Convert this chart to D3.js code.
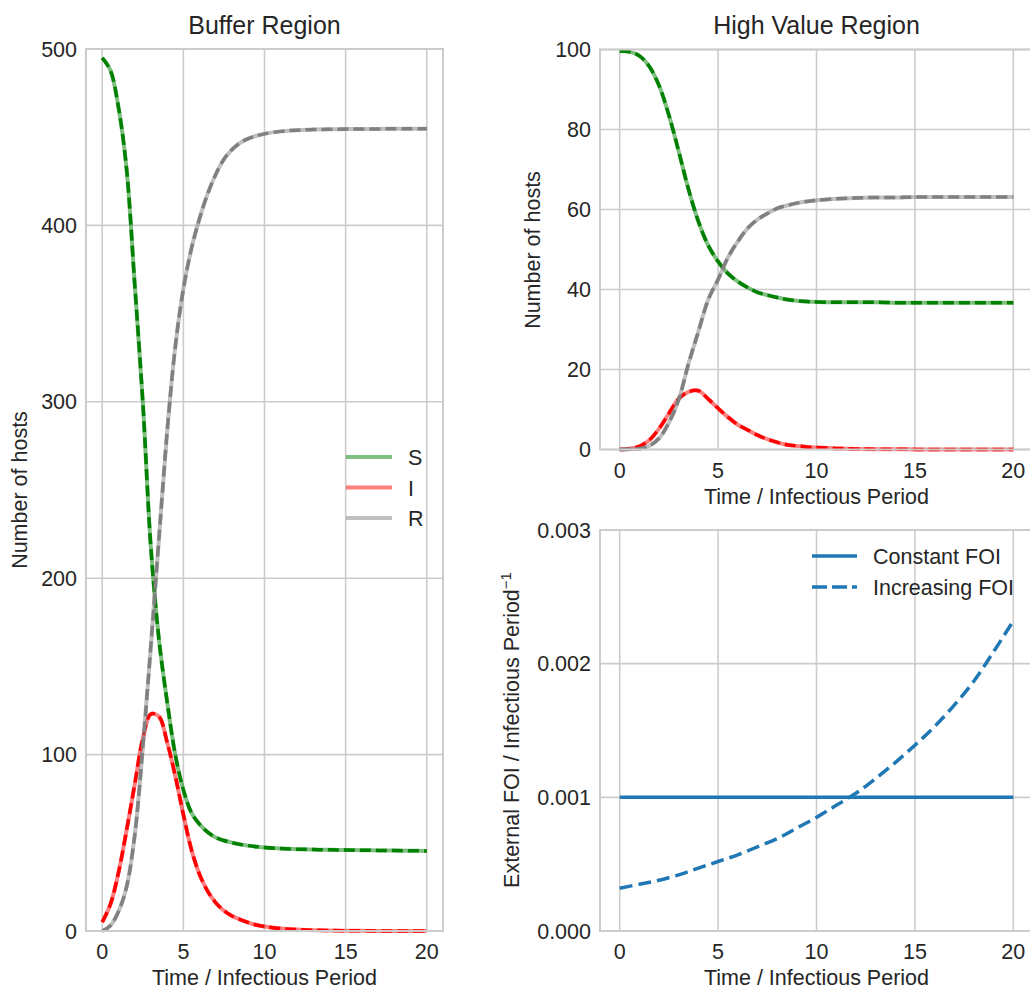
<!DOCTYPE html>
<meta charset="utf-8">
<style>
body { margin: 0; background: #fff; }
svg text {
  font-family: "Liberation Sans", Arial, sans-serif;
  fill: #262626;
}
.grid line { stroke: #cccccc; stroke-width: 1.6; }
.frame { fill: none; stroke: #cccccc; stroke-width: 2; }
</style>
<svg id="chart" width="1030" height="990"></svg>
<script src="https://d3js.org/d3.v7.min.js"></script>
<script>

var times = [0, 0.5, 1, 1.5, 2, 2.5, 3, 3.5, 4, 4.5, 5, 5.5, 6, 6.5, 7, 7.5, 8, 8.5, 9, 9.5, 10,
             11, 12, 13, 14, 15, 16, 17, 18, 19, 20];

// buffer region
var bufferS = [495, 488, 467, 432, 367, 300, 217, 165, 130, 100, 80, 67, 60.5, 56, 53, 51.3, 50.1, 49.1, 48.4, 47.8, 47.3,
               46.7, 46.4, 46.2, 46, 45.9, 45.8, 45.7, 45.6, 45.5, 45.4];
var bufferI = [5, 15, 33, 57, 83, 109, 123, 121.5, 107, 88, 66, 46, 32, 22.5, 16, 11.5, 8.5, 6.5, 4.8, 3.4, 2.5,
               1.4, 0.8, 0.45, 0.25, 0.15, 0.08, 0.05, 0.03, 0.02, 0.01];
var bufferR = [0, 3, 11, 25, 54, 104, 162, 223, 283, 331, 364, 387, 404, 418, 429, 437.5, 443, 446.8, 449.2, 450.8, 451.9,
               453.3, 454, 454.3, 454.5, 454.6, 454.7, 454.7, 454.8, 454.8, 454.8];

// high value region
var highS = [99.6, 99.4, 98.4, 95.8, 91, 83.6, 74.5, 65, 57, 51, 47, 44, 42, 40.5, 39.3, 38.6, 38, 37.5, 37.2, 37, 36.9,
             36.8, 36.8, 36.8, 36.7, 36.7, 36.7, 36.7, 36.7, 36.7, 36.7];
var highI = [0, 0.2, 0.8, 2.3, 5.2, 9, 12.7, 14.4, 14.7, 12.6, 10.3, 8.1, 6.2, 4.9, 3.6, 2.6, 1.8, 1.2, 0.9, 0.65, 0.5,
             0.28, 0.15, 0.08, 0.05, 0.03, 0.02, 0.01, 0.01, 0.01, 0];
var highR = [0, 0.05, 0.2, 0.9, 2.8, 6.7, 12.5, 21.5, 29.5, 37.5, 42.5, 48, 52, 55.3, 57.5, 59, 60.3, 61, 61.6, 62, 62.3,
             62.7, 62.9, 63, 63, 63.1, 63.1, 63.1, 63.1, 63.1, 63.1];

// external force of infection
var foiTimes = [0, 1, 2, 3, 4, 5, 6, 7, 8, 9, 10, 11, 12, 13, 14, 15, 16, 17, 18, 19, 20];
var constantFoi = [0.001, 0.001, 0.001, 0.001, 0.001, 0.001, 0.001, 0.001, 0.001, 0.001, 0.001,
                   0.001, 0.001, 0.001, 0.001, 0.001, 0.001, 0.001, 0.001, 0.001, 0.001];
var increasingFoi = [0.00032, 0.00035, 0.00038, 0.00042, 0.00047, 0.00052, 0.00057, 0.00063, 0.00069, 0.00077, 0.00085,
                     0.00094, 0.00103, 0.00114, 0.00126, 0.00139, 0.00153, 0.00169, 0.00187, 0.00209, 0.00232];

var xTicks = [0, 5, 10, 15, 20];
var bufferTicks = [0, 100, 200, 300, 400, 500];
var highTicks = [0, 20, 40, 60, 80, 100];
var foiTicks = [0, 0.001, 0.002, 0.003];

var sirNames = ["S", "I", "R"];
var sirColors = ["green", "red", "gray"];

var svg = d3.select("#chart");

function panel(box, yDomain, yTicks, yFormat) {
  var x = d3.scaleLinear().domain([-1, 21]).range([box.left, box.right]);
  var y = d3.scaleLinear().domain(yDomain).range([box.bottom, box.top]);

  var g = svg.append("g");
  var grid = g.append("g").attr("class", "grid");
  grid.selectAll(".gx").data(xTicks).enter().append("line")
      .attr("x1", x).attr("x2", x)
      .attr("y1", box.top).attr("y2", box.bottom);
  grid.selectAll(".gy").data(yTicks).enter().append("line")
      .attr("x1", box.left).attr("x2", box.right)
      .attr("y1", y).attr("y2", y);

  g.selectAll(".xt").data(xTicks).enter().append("text")
      .attr("x", x).attr("y", box.bottom + 28)
      .attr("text-anchor", "middle")
      .style("font-size", "21.5px")
      .text(function(d) { return d; });
  g.selectAll(".yt").data(yTicks).enter().append("text")
      .attr("x", box.left - 9).attr("y", function(d) { return y(d) + 7.5; })
      .attr("text-anchor", "end")
      .style("font-size", "21.5px")
      .text(yFormat);

  g.append("text")
      .attr("x", (box.left + box.right) / 2).attr("y", box.bottom + 54)
      .attr("text-anchor", "middle")
      .style("font-size", "21.5px")
      .text("Time / Infectious Period");

  var plot = g.append("g");
  g.append("rect").attr("class", "frame")
      .attr("x", box.left).attr("y", box.top)
      .attr("width", box.right - box.left).attr("height", box.bottom - box.top);

  return { x: x, y: y, g: g, plot: plot };
}

function sirLines(p, series) {
  series.forEach(function(values, i) {
    var line = d3.line()
        .x(function(d, j) { return p.x(times[j]); })
        .y(function(d) { return p.y(d); })
        .curve(d3.curveCatmullRom.alpha(0.5));
    p.plot.append("path")
        .attr("d", line(values))
        .attr("fill", "none")
        .attr("stroke", sirColors[i])
        .attr("stroke-opacity", 0.5)
        .attr("stroke-width", 4);
    p.plot.append("path")
        .attr("d", line(values))
        .attr("fill", "none")
        .attr("stroke", sirColors[i])
        .attr("stroke-width", 3.5)
        .attr("stroke-dasharray", "11,5");
  });
}

function yLabel(x, y, txt) {
  return svg.append("text")
      .attr("transform", "translate(" + x + "," + y + ") rotate(-90)")
      .attr("text-anchor", "middle")
      .style("font-size", "21.5px")
      .text(txt);
}

// left panel
var left = panel({ left: 86, right: 443, top: 49, bottom: 931 }, [0, 500], bufferTicks, d3.format("d"));
sirLines(left, [bufferS, bufferI, bufferR]);
svg.append("text").attr("x", 264.5).attr("y", 34).attr("text-anchor", "middle")
    .style("font-size", "25px").text("Buffer Region");
yLabel(27, 490, "Number of hosts");

var leg = svg.append("g").selectAll("g").data(sirNames).enter().append("g")
    .attr("transform", function(d, i) { return "translate(346," + (457 + i * 30.5) + ")"; });
leg.append("line").attr("x1", 0).attr("x2", 46)
    .attr("stroke", function(d, i) { return sirColors[i]; })
    .attr("stroke-opacity", 0.5).attr("stroke-width", 4);
leg.append("text").attr("x", 62).attr("y", 8).style("font-size", "21.5px")
    .text(function(d) { return d; });

// top right
var high = panel({ left: 600, right: 1033, top: 49.5, bottom: 449.5 }, [0, 100], highTicks, d3.format("d"));
sirLines(high, [highS, highI, highR]);
svg.append("text").attr("x", 816.5).attr("y", 34).attr("text-anchor", "middle")
    .style("font-size", "25px").text("High Value Region");
yLabel(540, 250, "Number of hosts");

// bottom right
var foi = panel({ left: 600, right: 1033, top: 530, bottom: 931 }, [0, 0.003], foiTicks, d3.format(".3f"));
var foiLine = d3.line()
    .x(function(d, j) { return foi.x(foiTimes[j]); })
    .y(function(d) { return foi.y(d); })
    .curve(d3.curveCatmullRom.alpha(0.5));
foi.plot.append("path").attr("d", foiLine(constantFoi))
    .attr("fill", "none").attr("stroke", "#1f77b4").attr("stroke-width", 3.5);
foi.plot.append("path").attr("d", foiLine(increasingFoi))
    .attr("fill", "none").attr("stroke", "#1f77b4").attr("stroke-width", 3.5)
    .attr("stroke-dasharray", "13,6");

var foiLab = yLabel(519, 730, "External FOI / Infectious Period");
foiLab.append("tspan").attr("dy", -8).style("font-size", "15px").text("\u22121");

var leg2 = svg.append("g");
leg2.append("line").attr("x1", 812).attr("x2", 857).attr("y1", 556).attr("y2", 556)
    .attr("stroke", "#1f77b4").attr("stroke-width", 3.5);
leg2.append("text").attr("x", 873).attr("y", 564).style("font-size", "21.5px").text("Constant FOI");
leg2.append("line").attr("x1", 812).attr("x2", 857).attr("y1", 587).attr("y2", 587)
    .attr("stroke", "#1f77b4").attr("stroke-width", 3.5).attr("stroke-dasharray", "15,5");
leg2.append("text").attr("x", 873).attr("y", 595).style("font-size", "21.5px").text("Increasing FOI");

</script>
